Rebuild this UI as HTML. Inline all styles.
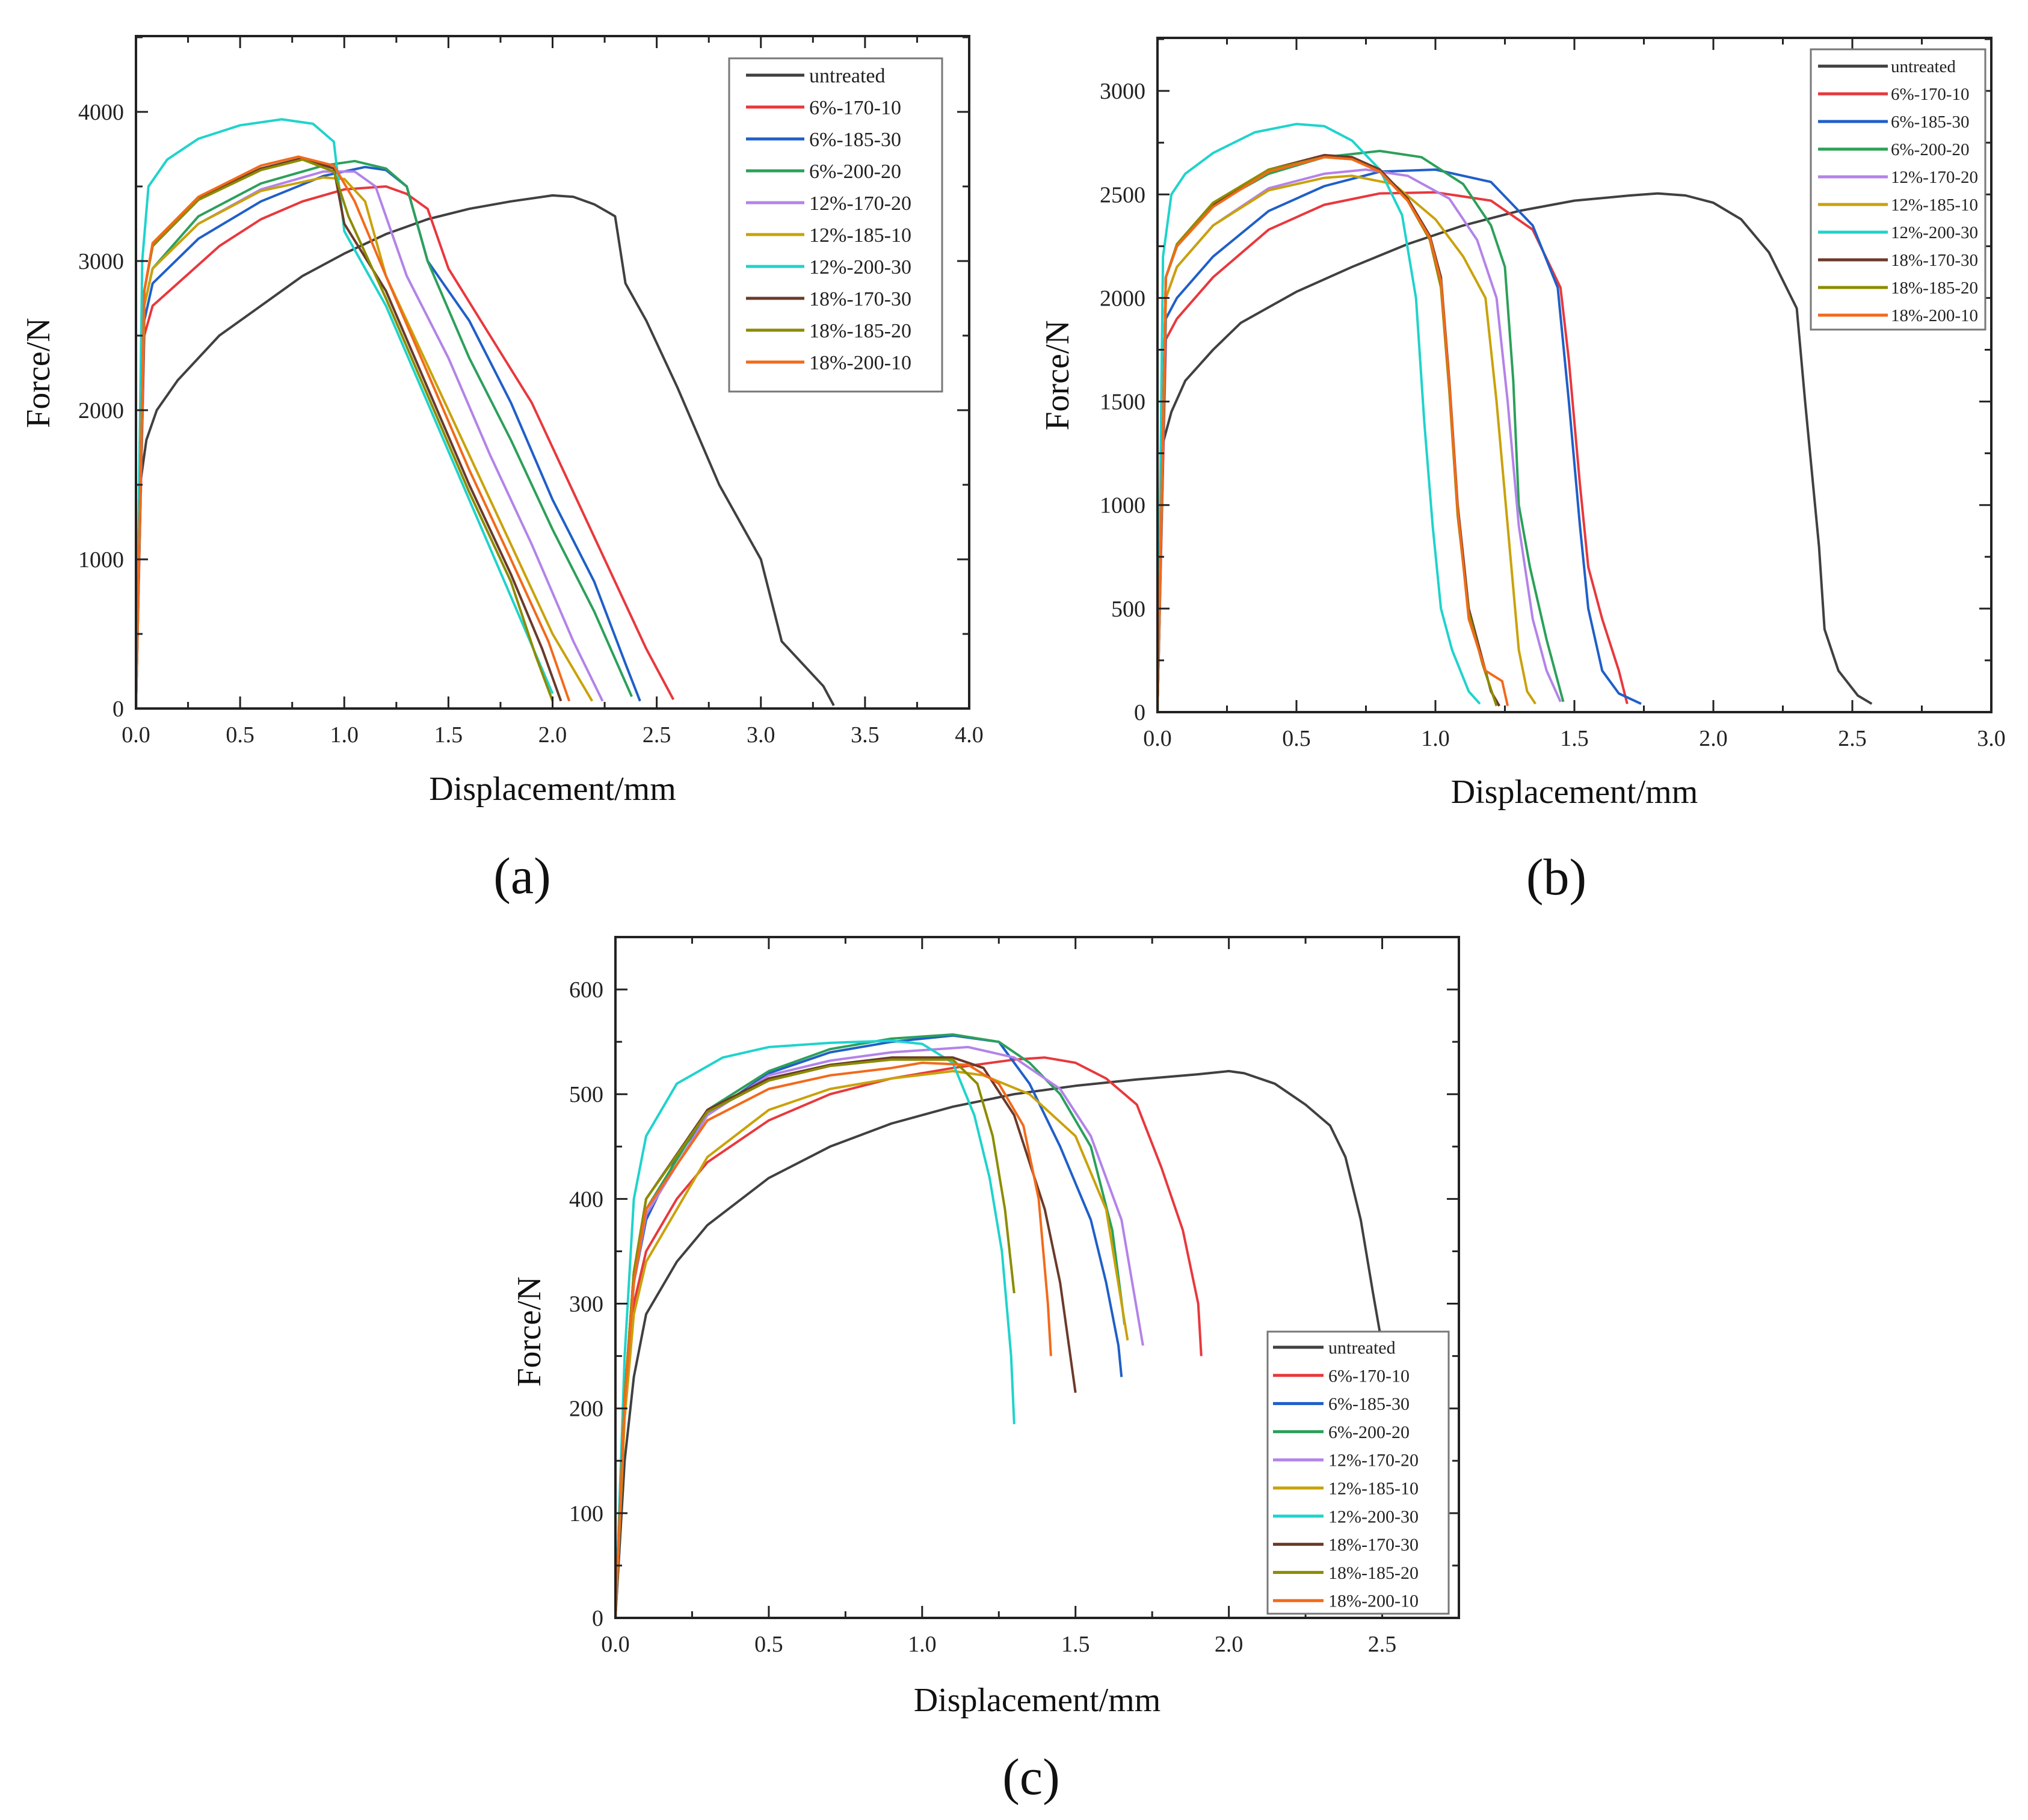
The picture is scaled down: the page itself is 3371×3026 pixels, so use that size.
<!DOCTYPE html>
<html><head><meta charset="utf-8">
<style>
html,body{margin:0;padding:0;background:#fff;}
svg{display:block;font-family:"Liberation Serif",serif;}
</style></head>
<body>
<svg id="fig" width="3371" height="3026" viewBox="0 0 3371 3026" xmlns="http://www.w3.org/2000/svg"></svg>
<script>
const seriesNames = ["untreated","6%-170-10","6%-185-30","6%-200-20","12%-170-20","12%-185-10","12%-200-30","18%-170-30","18%-185-20","18%-200-10"];
const seriesColors = ["#404040","#e8383d","#1f5fc8","#2ca05a","#b383e8","#c9a20a","#1fd3cc","#6b3a2a","#8c8c00","#f26a1b"];

// Panel (a) data: [displacement mm, force N]
const aUntreated = [[0,0],[0.02,1500],[0.05,1800],[0.1,2000],[0.2,2200],[0.4,2500],[0.6,2700],[0.8,2900],[1.0,3050],[1.2,3180],[1.4,3280],[1.6,3350],[1.8,3400],[2.0,3440],[2.1,3430],[2.2,3380],[2.3,3300],[2.35,2850],[2.45,2600],[2.6,2150],[2.8,1500],[3.0,1000],[3.1,450],[3.2,300],[3.3,150],[3.35,20]];
const a617010 = [[0,0],[0.04,2500],[0.08,2700],[0.2,2850],[0.4,3100],[0.6,3280],[0.8,3400],[1.0,3480],[1.2,3500],[1.3,3450],[1.4,3350],[1.5,2950],[1.7,2500],[1.9,2050],[2.1,1450],[2.3,850],[2.45,400],[2.58,60]];
const a618530 = [[0,0],[0.04,2600],[0.08,2850],[0.3,3150],[0.6,3400],[0.9,3570],[1.1,3630],[1.2,3610],[1.3,3500],[1.4,3000],[1.6,2600],[1.8,2050],[2.0,1400],[2.2,850],[2.35,300],[2.42,50]];
const a620020 = [[0,0],[0.04,2700],[0.08,2950],[0.3,3300],[0.6,3520],[0.9,3640],[1.05,3670],[1.2,3620],[1.3,3500],[1.4,3000],[1.6,2350],[1.8,1800],[2.0,1200],[2.2,650],[2.38,80]];
const a1217020 = [[0,0],[0.04,2700],[0.08,2950],[0.3,3250],[0.6,3480],[0.9,3600],[1.05,3600],[1.15,3500],[1.3,2900],[1.5,2350],[1.7,1700],[1.9,1100],[2.1,450],[2.24,50]];
const a1218510 = [[0,0],[0.04,2700],[0.08,2950],[0.3,3250],[0.6,3470],[0.9,3560],[1.0,3550],[1.1,3400],[1.2,2900],[1.4,2300],[1.6,1700],[1.8,1100],[2.0,500],[2.19,50]];
const a1220030 = [[0,0],[0.03,3000],[0.06,3500],[0.15,3680],[0.3,3820],[0.5,3910],[0.7,3950],[0.85,3920],[0.95,3800],[1.0,3200],[1.2,2700],[1.4,2050],[1.6,1400],[1.8,750],[2.0,100]];
const a1817030 = [[0,0],[0.04,2800],[0.08,3100],[0.3,3420],[0.6,3620],[0.8,3690],[0.95,3620],[1.0,3250],[1.2,2800],[1.4,2150],[1.6,1500],[1.8,900],[1.95,400],[2.04,50]];
const a1818520 = [[0,0],[0.04,2800],[0.08,3100],[0.3,3410],[0.6,3610],[0.8,3680],[0.95,3600],[1.02,3300],[1.2,2750],[1.4,2100],[1.6,1450],[1.8,850],[1.92,350],[2.0,50]];
const a1820010 = [[0,0],[0.04,2800],[0.08,3120],[0.3,3430],[0.6,3640],[0.78,3700],[0.95,3640],[1.05,3400],[1.2,2900],[1.4,2250],[1.6,1600],[1.8,1000],[1.98,450],[2.08,50]];

// Panel (b) data
const bUntreated = [[0,0],[0.02,1300],[0.05,1450],[0.1,1600],[0.2,1750],[0.3,1880],[0.5,2030],[0.7,2150],[0.9,2260],[1.1,2350],[1.3,2420],[1.5,2470],[1.7,2495],[1.8,2505],[1.9,2495],[2.0,2460],[2.1,2380],[2.2,2220],[2.3,1950],[2.33,1500],[2.38,800],[2.4,400],[2.45,200],[2.52,80],[2.57,40]];
const b617010 = [[0,0],[0.03,1800],[0.07,1900],[0.2,2100],[0.4,2330],[0.6,2450],[0.8,2505],[1.0,2510],[1.2,2470],[1.35,2330],[1.45,2050],[1.48,1700],[1.52,1100],[1.55,700],[1.6,450],[1.66,200],[1.69,40]];
const b618530 = [[0,0],[0.03,1900],[0.07,2000],[0.2,2200],[0.4,2420],[0.6,2540],[0.8,2610],[1.0,2620],[1.2,2560],[1.35,2350],[1.44,2050],[1.48,1500],[1.52,900],[1.55,500],[1.6,200],[1.66,90],[1.74,40]];
const b620020 = [[0,0],[0.03,2100],[0.07,2250],[0.2,2450],[0.4,2600],[0.6,2680],[0.8,2710],[0.95,2680],[1.1,2550],[1.2,2350],[1.25,2150],[1.28,1600],[1.3,1000],[1.34,700],[1.4,350],[1.46,50]];
const b1217020 = [[0,0],[0.03,2000],[0.07,2150],[0.2,2350],[0.4,2530],[0.6,2600],[0.75,2620],[0.9,2590],[1.05,2480],[1.15,2280],[1.22,2000],[1.26,1500],[1.3,900],[1.35,450],[1.4,200],[1.45,50]];
const b1218510 = [[0,0],[0.03,2000],[0.07,2150],[0.2,2350],[0.4,2520],[0.6,2580],[0.7,2590],[0.85,2550],[1.0,2380],[1.1,2200],[1.18,2000],[1.22,1500],[1.26,900],[1.3,300],[1.33,100],[1.36,40]];
const b1220030 = [[0,0],[0.02,2200],[0.05,2500],[0.1,2600],[0.2,2700],[0.35,2800],[0.5,2840],[0.6,2830],[0.7,2760],[0.8,2620],[0.88,2400],[0.93,2000],[0.96,1400],[0.99,900],[1.02,500],[1.06,300],[1.12,100],[1.16,40]];
const b1817030 = [[0,0],[0.03,2100],[0.07,2250],[0.2,2450],[0.4,2620],[0.6,2690],[0.7,2680],[0.8,2620],[0.9,2480],[0.98,2300],[1.02,2100],[1.05,1600],[1.08,1000],[1.12,500],[1.17,250],[1.2,100],[1.23,30]];
const b1818520 = [[0,0],[0.03,2100],[0.07,2260],[0.2,2460],[0.4,2620],[0.6,2680],[0.7,2670],[0.8,2610],[0.9,2470],[0.98,2280],[1.02,2050],[1.05,1550],[1.08,950],[1.12,480],[1.17,230],[1.22,30]];
const b1820010 = [[0,0],[0.03,2100],[0.07,2250],[0.2,2440],[0.4,2610],[0.6,2680],[0.7,2670],[0.8,2610],[0.9,2470],[0.98,2290],[1.02,2080],[1.05,1580],[1.08,980],[1.12,450],[1.18,200],[1.24,150],[1.26,30]];

// Panel (c) data
const cUntreated = [[0,0],[0.03,150],[0.06,230],[0.1,290],[0.2,340],[0.3,375],[0.5,420],[0.7,450],[0.9,472],[1.1,488],[1.3,500],[1.5,508],[1.7,514],[1.9,519],[2.0,522],[2.05,520],[2.15,510],[2.25,490],[2.33,470],[2.38,440],[2.43,380],[2.47,310],[2.5,260],[2.52,240]];
const c617010 = [[0,0],[0.03,200],[0.06,300],[0.1,350],[0.2,400],[0.3,435],[0.5,475],[0.7,500],[0.9,515],[1.1,525],[1.3,533],[1.4,535],[1.5,530],[1.6,515],[1.7,490],[1.78,430],[1.85,370],[1.9,300],[1.91,250]];
const c618530 = [[0,0],[0.03,200],[0.06,320],[0.1,380],[0.2,440],[0.3,480],[0.5,520],[0.7,540],[0.9,550],[1.1,556],[1.25,550],[1.35,510],[1.45,450],[1.55,380],[1.6,320],[1.64,260],[1.65,230]];
const c620020 = [[0,0],[0.03,210],[0.06,330],[0.1,390],[0.3,485],[0.5,522],[0.7,543],[0.9,553],[1.1,557],[1.25,550],[1.35,530],[1.45,500],[1.55,450],[1.62,370],[1.66,280]];
const c1217020 = [[0,0],[0.03,205],[0.06,320],[0.1,385],[0.3,480],[0.5,518],[0.7,532],[0.9,540],[1.15,545],[1.3,535],[1.45,505],[1.55,460],[1.65,380],[1.72,260]];
const c1218510 = [[0,0],[0.03,190],[0.06,290],[0.1,340],[0.3,440],[0.5,485],[0.7,505],[0.9,515],[1.1,522],[1.2,518],[1.35,500],[1.5,460],[1.6,390],[1.67,265]];
const c1220030 = [[0,0],[0.03,250],[0.06,400],[0.1,460],[0.2,510],[0.35,535],[0.5,545],[0.7,549],[0.9,551],[1.0,548],[1.1,530],[1.17,480],[1.22,420],[1.26,350],[1.29,250],[1.3,185]];
const c1817030 = [[0,0],[0.03,210],[0.06,330],[0.1,400],[0.3,485],[0.5,515],[0.7,528],[0.9,535],[1.1,535],[1.2,525],[1.3,480],[1.4,390],[1.45,320],[1.5,215]];
const c1818520 = [[0,0],[0.03,210],[0.06,330],[0.1,400],[0.3,483],[0.5,513],[0.7,527],[0.9,533],[1.1,533],[1.18,510],[1.23,460],[1.27,390],[1.3,310]];
const c1820010 = [[0,0],[0.03,205],[0.06,320],[0.1,390],[0.3,475],[0.5,505],[0.7,518],[0.9,525],[1.0,530],[1.15,528],[1.25,510],[1.33,470],[1.38,400],[1.41,300],[1.42,250]];

const aSeries = [aUntreated,a617010,a618530,a620020,a1217020,a1218510,a1220030,a1817030,a1818520,a1820010];
const bSeries = [bUntreated,b617010,b618530,b620020,b1217020,b1218510,b1220030,b1817030,b1818520,b1820010];
const cSeries = [cUntreated,c617010,c618530,c620020,c1217020,c1218510,c1220030,c1817030,c1818520,c1820010];

const aXTicks = ["0.0","0.5","1.0","1.5","2.0","2.5","3.0","3.5","4.0"];
const aYTicks = ["0","1000","2000","3000","4000"];
const bXTicks = ["0.0","0.5","1.0","1.5","2.0","2.5","3.0"];
const bYTicks = ["0","500","1000","1500","2000","2500","3000"];
const cXTicks = ["0.0","0.5","1.0","1.5","2.0","2.5"];
const cYTicks = ["0","100","200","300","400","500","600"];

const NS = "http://www.w3.org/2000/svg";
const svg = document.getElementById("fig");
function mk(tag, attrs, parent){const e=document.createElementNS(NS,tag);for(const k in attrs)e.setAttribute(k,attrs[k]);(parent||svg).appendChild(e);return e;}

function panel(cfg){
  const g = mk("g",{});
  
  
  const L=cfg.L,R=cfg.R,T=cfg.T,B=cfg.B;
  const sx = v => L + (v - cfg.x0)/(cfg.x1 - cfg.x0)*(R-L);
  const sy = v => B - (v - cfg.y0)/(cfg.y1 - cfg.y0)*(B-T);
  // clip
  const cp = mk("clipPath",{id:"clip"+cfg.id},g);
  mk("rect",{x:L,y:T,width:R-L,height:B-T},cp);
  // series
  const sg = mk("g",{"clip-path":"url(#clip"+cfg.id+")"},g);
  cfg.series.forEach((pts,i)=>{
    const p = mk("polyline",{points:pts.map(d=>sx(d[0]).toFixed(1)+","+sy(d[1]).toFixed(1)).join(" "),fill:"none",stroke:seriesColors[i],"stroke-width":4,"stroke-linejoin":"round"},sg);
    
    
  });
  // frame
  const fr = mk("rect",{x:L,y:T,width:R-L,height:B-T,fill:"none",stroke:"#222","stroke-width":4},g);
  
  
  // x ticks
  const xg = mk("g",{},g);
  
  
  cfg.xTicks.forEach((lab,i)=>{
    const v = parseFloat(lab); const x = sx(v);
    mk("line",{x1:x,y1:B,x2:x,y2:B-20,stroke:"#222","stroke-width":3},xg);
    mk("line",{x1:x,y1:T,x2:x,y2:T+20,stroke:"#222","stroke-width":3},xg);
    const t = mk("text",{x:x,y:B+56,"font-size":38,"text-anchor":"middle",fill:"#222"},xg);
    t.textContent = lab;
    
    
    const step = parseFloat(cfg.xTicks[1]) - parseFloat(cfg.xTicks[0]);
    const mv = v + step/2;
    if (mv < cfg.x1) {
      const mx = sx(mv);
      mk("line",{x1:mx,y1:B,x2:mx,y2:B-11,stroke:"#222","stroke-width":3},xg);
      mk("line",{x1:mx,y1:T,x2:mx,y2:T+11,stroke:"#222","stroke-width":3},xg);
    }
  });
  // y ticks
  const yg = mk("g",{},g);
  
  
  cfg.yTicks.forEach((lab,i)=>{
    const v = parseFloat(lab); const y = sy(v);
    mk("line",{x1:L,y1:y,x2:L+20,y2:y,stroke:"#222","stroke-width":3},yg);
    mk("line",{x1:R,y1:y,x2:R-20,y2:y,stroke:"#222","stroke-width":3},yg);
    const t = mk("text",{x:L-20,y:y+13,"font-size":38,"text-anchor":"end",fill:"#222"},yg);
    t.textContent = lab;
    
    
    const step = parseFloat(cfg.yTicks[1]) - parseFloat(cfg.yTicks[0]);
    const mv = v + step/2;
    if (mv < cfg.y1) {
      const my = sy(mv);
      mk("line",{x1:L,y1:my,x2:L+11,y2:my,stroke:"#222","stroke-width":3},yg);
      mk("line",{x1:R,y1:my,x2:R-11,y2:my,stroke:"#222","stroke-width":3},yg);
    }
  });
  // titles
  const xt = mk("text",{x:(L+R)/2,y:cfg.xTitleY,"font-size":56,"text-anchor":"middle",fill:"#111"},g);
  xt.textContent = "Displacement/mm";
  
  
  const yt = mk("text",{x:0,y:0,"font-size":56,"text-anchor":"middle",fill:"#111",transform:"translate("+cfg.yTitleX+","+cfg.yTitleY+") rotate(-90)"},g);
  yt.textContent = "Force/N";
  
  
  const pl = mk("text",{x:cfg.labX,y:cfg.labY,"font-size":86,"text-anchor":"middle",fill:"#111"},g);
  pl.textContent = "(" + cfg.id + ")";
  
  
  // legend
  const lg = mk("g",{},g);
  
  
  const lw = cfg.leg;
  mk("rect",{x:lw.x,y:lw.y,width:lw.w,height:lw.h,fill:"#fff",stroke:"#777","stroke-width":3},lg);
  seriesNames.forEach((n,i)=>{
    const y = lw.r0 + i*lw.step;
    const e = mk("g",{},lg);
    
    
    mk("line",{x1:lw.lx1,y1:y,x2:lw.lx2,y2:y,stroke:seriesColors[i],"stroke-width":5},e);
    const t = mk("text",{x:lw.tx,y:y+lw.fs*0.35,"font-size":lw.fs,fill:"#222"},e);
    t.textContent = n;
  });
}

panel({id:"a",L:226,R:1611,T:60,B:1178,x0:0,x1:4,y0:0,y1:4508,series:aSeries,xTicks:aXTicks,yTicks:aYTicks,
  xTitleY:1330,yTitleX:82,yTitleY:620,labX:868,labY:1485,
  leg:{x:1212,y:97,w:354,h:554,r0:125,step:53,lx1:1240,lx2:1337,tx:1345,fs:34}});
panel({id:"b",L:1924,R:3310,T:63,B:1184,x0:0,x1:3,y0:0,y1:3256,series:bSeries,xTicks:bXTicks,yTicks:bYTicks,
  xTitleY:1335,yTitleX:1776,yTitleY:624,labX:2587,labY:1487,
  leg:{x:3010,y:82,w:290,h:466,r0:110,step:46,lx1:3022,lx2:3138,tx:3143,fs:29}});
panel({id:"c",L:1023,R:2425,T:1558,B:2690,x0:0,x1:2.75,y0:0,y1:650,series:cSeries,xTicks:cXTicks,yTicks:cYTicks,
  xTitleY:2845,yTitleX:898,yTitleY:2214,labX:1714,labY:2983,
  leg:{x:2107,y:2214,w:301,h:469,r0:2240,step:46.8,lx1:2116,lx2:2200,tx:2208,fs:30}});
</script>
</body></html>
